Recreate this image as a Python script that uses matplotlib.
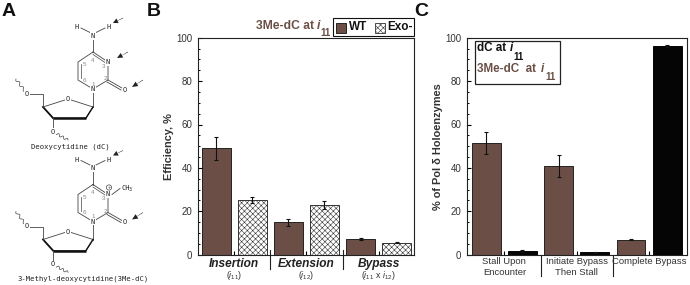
# -*- coding: utf-8 -*-
import numpy as np
import matplotlib
matplotlib.use('Agg')
import matplotlib.pyplot as plt
from matplotlib.patches import Circle, Polygon
from matplotlib.ticker import MultipleLocator

plt.rcParams['font.family'] = ['Liberation Sans', 'DejaVu Sans']
plt.rcParams['hatch.linewidth'] = 0.4
plt.rcParams['mathtext.fontset'] = 'custom'
plt.rcParams['mathtext.rm'] = 'Liberation Sans'
plt.rcParams['mathtext.it'] = 'Liberation Sans:italic'
plt.rcParams['mathtext.bf'] = 'Liberation Sans:bold'

# --- dados painel B ---
valores_wt = [49, 15, 7.3]
erros_wt = [5.3, 1.6, 0.5]
valores_exo = [25, 22.8, 5.6]
erros_exo = [1.4, 1.9, 0.3]

# --- dados painel C ---
categorias_c = ['Stall Upon\nEncounter', 'Initiate Bypass\nThen Stall', 'Complete Bypass']
valores_3me = [51.5, 41, 7]
erros_3me = [5.2, 5, 0.4]
valores_dc = [1.7, 1.1, 96.2]
erros_dc = [0.3, 0.2, 0.6]

MARROM = '#6b4f47'
TEXTO = '#333333'

fig = plt.figure(figsize=(6.9, 2.85), dpi=100)


def eixo_px(x0, y0, x1, y1):
    return fig.add_axes([x0 / 690, 1 - y1 / 285, (x1 - x0) / 690, (y1 - y0) / 285])


def ajusta_eixo(ax, xlim):
    ax.set_xlim(*xlim)
    ax.set_ylim(0, 100)
    ax.yaxis.set_major_locator(MultipleLocator(20))
    ax.yaxis.set_minor_locator(MultipleLocator(5))
    ax.tick_params(axis='y', which='major', direction='in', length=3, width=0.8,
                   labelsize=7, labelcolor=TEXTO, pad=4)
    ax.tick_params(axis='y', which='minor', direction='in', length=1.5, width=0.7)
    # marcas entre as barras e separadores dos grupos
    ax.set_xticks([1.5, 3.5])
    ax.set_xticks([0.5, 2.5, 4.5], minor=True)
    ax.set_xticklabels([])
    ax.tick_params(axis='x', which='major', length=0)
    ax.tick_params(axis='x', which='minor', direction='in', length=3, width=0.8)
    for lado in ax.spines.values():
        lado.set_linewidth(0.8)
        lado.set_color('#222222')


# --- painel A: estruturas (coordenadas em pixels da figura) ---
base = fig.add_axes([0, 0, 1, 1])
base.set_xlim(0, 690)
base.set_ylim(285, 0)
base.axis('off')

anel = [(93, 52), (108, 62), (108, 80), (93, 89), (78, 80), (78, 62), (93, 52)]
acucar = [(68, 99), (93, 107), (86, 118), (53, 118), (43, 107), (68, 99)]
ondas = [[(27, 94), (16, 79)], [(55, 133), (68, 140)]]


def ondulada(ax, p0, p1, dy):
    t = np.linspace(0, 1, 40)
    x = p0[0] + (p1[0] - p0[0]) * t
    y = p0[1] + (p1[1] - p0[1]) * t + dy
    nx, ny = -(p1[1] - p0[1]), p1[0] - p0[0]
    n = np.hypot(nx, ny)
    onda = 1.2 * np.sin(t * 6 * np.pi)
    ax.plot(x + nx / n * onda, y + ny / n * onda, color='#444444', lw=0.5)


def seta(ax, x0, y0, x1, y1):
    dx, dy = x1 - x0, y1 - y0
    n = np.hypot(dx, dy)
    nx, ny = -dy / n, dx / n
    ax.add_patch(Polygon([(x0, y0), (x1 + nx * 0.3, y1 + ny * 0.3),
                          (x1 - nx * 0.3, y1 - ny * 0.3)], color='#222222', lw=0))
    ax.add_patch(Polygon([(x0, y0), (x0 + dx * 0.45 + nx * 2.6, y0 + dy * 0.45 + ny * 2.6),
                          (x0 + dx * 0.45 - nx * 2.6, y0 + dy * 0.45 - ny * 2.6)],
                         color='#222222', lw=0))


def estrutura(ax, dy, metil):
    cor = '#444444'
    ax.plot([p[0] for p in anel], [p[1] + dy for p in anel], color=cor, lw=0.6, zorder=1)
    ax.plot([80.5, 80.5], [64 + dy, 78 + dy], color=cor, lw=0.5)
    ax.plot([93, 105], [54.5 + dy, 62.5 + dy], color=cor, lw=0.5)
    ax.plot([93, 93], [36 + dy, 52 + dy], color=cor, lw=0.6)
    ax.plot([93, 81], [34 + dy, 28 + dy], color=cor, lw=0.6)
    ax.plot([93, 105], [34 + dy, 28 + dy], color=cor, lw=0.6)
    ax.plot([108, 122], [80 + dy, 88 + dy], color=cor, lw=0.6)
    ax.plot([107, 121], [82 + dy, 90 + dy], color=cor, lw=0.6)
    ax.plot([93, 93], [89 + dy, 107 + dy], color=cor, lw=0.6)
    ax.plot([p[0] for p in acucar], [p[1] + dy for p in acucar], color=cor, lw=0.6)
    ax.plot([53, 86], [118 + dy, 118 + dy], color='#111111', lw=1.8, solid_capstyle='butt')
    ax.plot([43, 53], [107 + dy, 118 + dy], color='#111111', lw=1.3)
    ax.plot([86, 93], [118 + dy, 107 + dy], color='#111111', lw=1.0)
    ax.plot([43, 43, 28], [107 + dy, 94 + dy, 94 + dy], color=cor, lw=0.6)
    ax.plot([53, 53], [118 + dy, 129 + dy], color=cor, lw=0.6)
    for p0, p1 in ondas:
        ondulada(ax, p0, p1, dy)
    rotulos = [('H', 77, 27), ('N', 93, 36), ('H', 109, 27), ('N', 108, 62),
               ('N', 93, 89), ('O', 125, 90), ('O', 68, 99), ('O', 27, 94), ('O', 53, 132)]
    for txt, x, y in rotulos:
        ax.text(x, y + dy, txt, fontsize=5, family='DejaVu Sans Mono', color='#222222',
                ha='center', va='center', zorder=3,
                bbox=dict(facecolor='white', edgecolor='none', pad=0.4))
    numeros = [('4', 93, 60), ('5', 84, 65), ('3', 104, 66), ('6', 84, 80),
               ('2', 105, 79), ('1', 93, 84)]
    for txt, x, y in numeros:
        ax.text(x, y + dy, txt, fontsize=4.5, color='#888888', ha='center', va='center')
    seta(ax, 113, 23 + dy, 123, 18 + dy)
    seta(ax, 132, 87 + dy, 143, 80 + dy)
    if metil:
        ax.add_patch(Circle((109, 55 + dy), 2.6, fill=False, ec=cor, lw=0.5))
        ax.text(109, 55 + dy, '+', fontsize=4, ha='center', va='center', color=cor)
        ax.plot([112, 120], [62 + dy, 56 + dy], color=cor, lw=0.6)
        ax.text(121, 55.5 + dy, 'CH', fontsize=5, family='DejaVu Sans Mono',
                ha='left', va='center', color='#222222')
        ax.text(128.5, 57 + dy, '3', fontsize=3.5, family='DejaVu Sans Mono',
                ha='left', va='center', color='#222222')
    else:
        seta(ax, 117, 58 + dy, 128, 52 + dy)


estrutura(base, 0, False)
estrutura(base, 132.5, True)
base.text(70, 146.5, 'Deoxycytidine (dC)', fontsize=5.2, family='DejaVu Sans Mono',
          ha='center', va='center', color='#222222')
base.text(83, 279, '3-Methyl-deoxycytidine(3Me-dC)', fontsize=5.2, family='DejaVu Sans Mono',
          ha='center', va='center', color='#222222')

for letra, x in [('A', 2), ('B', 147), ('C', 414)]:
    base.text(x, 12, letra, fontsize=14, fontweight='bold', ha='left', va='center', color='#111111')

# --- painel B ---
ax_b = eixo_px(197.7, 37.7, 414, 254.7)
pos_wt = np.arange(3) * 2
pos_exo = pos_wt + 1
estilo_erro = dict(ecolor='#111111', elinewidth=0.8, capsize=1.3, capthick=0.8)
ax_b.bar(pos_wt, valores_wt, 0.8, color=MARROM, edgecolor='#222222', linewidth=0.7,
         yerr=erros_wt, error_kw=estilo_erro)
ax_b.bar(pos_exo, valores_exo, 0.8, color='white', edgecolor='#333333', linewidth=0.7,
         hatch='xxxxxx', yerr=erros_exo, error_kw=estilo_erro)
ajusta_eixo(ax_b, (-0.51, 5.48))
ax_b.set_ylabel('Efficiency, %', fontsize=7.9, fontweight='bold', color=TEXTO, labelpad=1.5)

nomes_b = ['Insertion', 'Extension', 'Bypass']
subs_b = [r'($\mathit{i}_{11}$)', r'($\mathit{i}_{12}$)', r'($\mathit{i}_{11}$ x $\mathit{i}_{12}$)']
for i, (nome, sub) in enumerate(zip(nomes_b, subs_b)):
    ax_b.text(pos_wt[i] + 0.5, -0.043, nome, transform=ax_b.get_xaxis_transform(),
              fontsize=8.6, fontweight='bold', fontstyle='italic', ha='center', va='center', color='#222222')
    ax_b.text(pos_wt[i] + 0.5, -0.096, sub, transform=ax_b.get_xaxis_transform(),
              fontsize=6.3, ha='center', va='center', color=TEXTO)
for x in [1.5, 3.5]:
    ax_b.plot([x, x], [0.02, -0.066], transform=ax_b.get_xaxis_transform(), color='#222222', lw=0.8, clip_on=False)

base.text(255.7, 26, '3Me-dC at', fontsize=8.7, fontweight='bold', color=MARROM, ha='left', va='center')
base.text(317, 26, 'i', fontsize=8.7, fontweight='bold', fontstyle='italic', color=MARROM, ha='left', va='center')
base.text(320.5, 33, '11', fontsize=7, fontweight='bold', color=MARROM, ha='left', va='center')
base.add_patch(plt.Rectangle((332.7, 18), 81.3, 17.7, fc='white', ec='#111111', lw=0.8))
base.add_patch(plt.Rectangle((336, 23), 10, 10, fc=MARROM, ec='#111111', lw=0.6))
base.text(349, 27.5, 'WT', fontsize=8.5, fontweight='bold', va='center', color='#111111')
base.add_patch(plt.Rectangle((374.5, 23), 10, 9.5, fc='white', ec='#333333', lw=0.6, hatch='xxxxxx'))
base.text(387, 27.5, 'Exo-', fontsize=8.5, fontweight='bold', va='center', color='#111111')

# --- painel C ---
ax_c = eixo_px(466.7, 37.7, 686.7, 254.7)
ax_c.bar(pos_wt, valores_3me, 0.8, color=MARROM, edgecolor='#222222', linewidth=0.7,
         yerr=erros_3me, error_kw=estilo_erro)
ax_c.bar(pos_exo, valores_dc, 0.8, color='#050505', edgecolor='#050505', linewidth=0.7,
         yerr=erros_dc, error_kw=estilo_erro)
ajusta_eixo(ax_c, (-0.54, 5.54))
ax_c.set_ylabel('% of Pol δ Holoenzymes', fontsize=7.9, fontweight='bold', color=TEXTO, labelpad=1.5)
for i, nome in enumerate(categorias_c):
    ax_c.text(pos_wt[i] + 0.5, -0.012, nome, transform=ax_c.get_xaxis_transform(),
              fontsize=6.8, ha='center', va='top', color=TEXTO, linespacing=1.3)
for x in [1.5, 3.5]:
    ax_c.plot([x, x], [0, -0.1], transform=ax_c.get_xaxis_transform(), color='#222222', lw=0.8, clip_on=False)

base.add_patch(plt.Rectangle((474.5, 40.5), 85, 43, fc='white', ec='#222222', lw=0.9, zorder=5))
base.text(476.7, 48, 'dC at', fontsize=8.4, fontweight='bold', color='#111111', va='center', zorder=6)
base.text(510, 48, 'i', fontsize=8.4, fontweight='bold', fontstyle='italic', color='#111111', va='center', zorder=6)
base.text(513.5, 56.5, '11', fontsize=7, fontweight='bold', color='#111111', va='center', zorder=6)
base.text(476.7, 69, '3Me-dC  at', fontsize=8.4, fontweight='bold', color=MARROM, va='center', zorder=6)
base.text(541, 69, 'i', fontsize=8.4, fontweight='bold', fontstyle='italic', color=MARROM, va='center', zorder=6)
base.text(545, 77.5, '11', fontsize=7, fontweight='bold', color=MARROM, va='center', zorder=6)
base.set_zorder(5)
base.patch.set_alpha(0)

fig.savefig('out.png', dpi=100)
